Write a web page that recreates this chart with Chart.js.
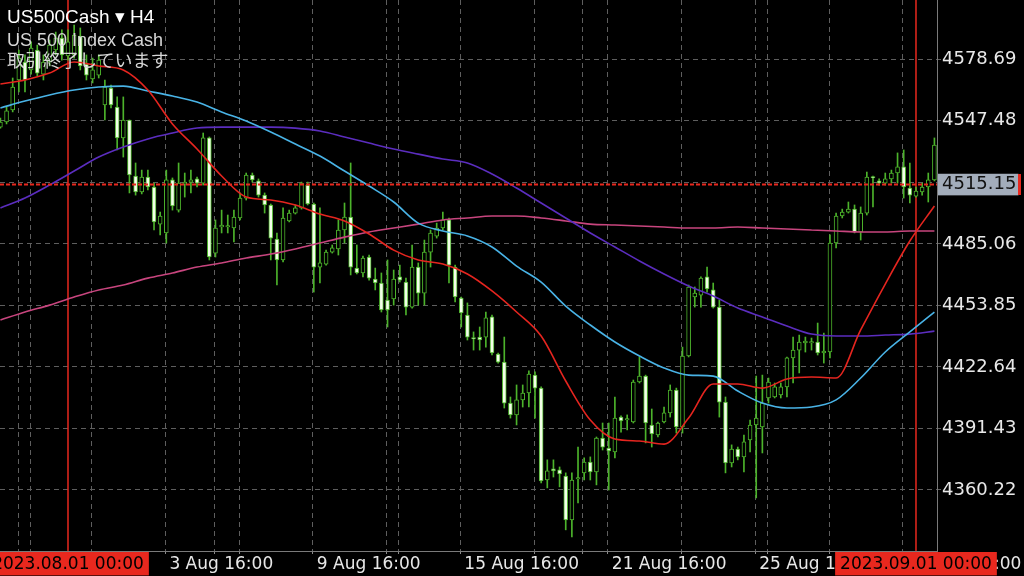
<!DOCTYPE html>
<html>
<head>
<meta charset="utf-8">
<script src="https://cdn.jsdelivr.net/npm/chart.js@4.4.1/dist/chart.umd.min.js"></script>
<style>
  html, body { margin: 0; padding: 0; background: #000; }
  #wrap { position: relative; width: 1024px; height: 576px; overflow: hidden; }
  .info { position: absolute; left: 7px; white-space: nowrap; }
</style>
</head>
<body>
<div id="wrap">
  <canvas id="chart" width="1024" height="576"></canvas>
  <div class="info" style="top:5px;font-family:'Liberation Sans';font-size:19px;line-height:23px;color:#fff">US500Cash ▾ H4</div>
  <div class="info" style="top:28px;font-family:'Liberation Sans';font-size:18px;line-height:24px;color:#d6d6d6">US 500 Index Cash</div>
  <div class="info" style="top:50px;font-family:'Noto Sans CJK JP';font-size:18px;line-height:18px;color:#d6d6d6">取引終了しています</div>
  <div style="position:absolute;left:1018px;top:174px;width:3px;height:21px;background:#e8281e"></div>
</div>
<script>
// H4 candles, first visible bar = index 0 (2023.08.01 00:00 is index 11)
const candleOpen = [
  4544.3, 4546.9, 4553.0, 4568.2, 4577.3, 4573.3, 4583.4, 4571.2, 4577.3, 4583.4,
  4589.5, 4580.4, 4580.9, 4590.5, 4576.3, 4568.7, 4570.7, 4555.5, 4564.1, 4554.5,
  4538.8, 4547.9, 4519.5, 4511.4, 4519.0, 4513.9, 4495.1, 4490.6, 4517.5, 4502.2,
  4515.4, 4516.4, 4518.0, 4515.9, 4538.8, 4480.4, 4493.6, 4493.6, 4493.1, 4498.2,
  4508.3, 4520.0, 4517.0, 4509.8, 4504.8, 4487.5, 4476.9, 4496.7, 4500.7, 4503.3,
  4514.9, 4505.3, 4473.3, 4474.8, 4480.9, 4482.5, 4492.1, 4498.7, 4472.8, 4470.3,
  4478.4, 4467.2, 4465.2, 4456.6, 4457.1, 4468.3, 4465.7, 4453.0, 4473.3, 4460.1,
  4480.9, 4489.0, 4493.1, 4497.2, 4473.3, 4457.6, 4449.0, 4437.3, 4437.8, 4437.8,
  4448.0, 4429.2, 4425.1, 4404.3, 4398.3, 4405.9, 4409.4, 4418.5, 4411.9, 4365.3,
  4370.9, 4370.4, 4367.3, 4345.0, 4365.8, 4368.9, 4374.4, 4369.4, 4386.6, 4381.5,
  4379.5, 4397.2, 4395.7, 4394.7, 4415.0, 4418.0, 4393.2, 4388.1, 4394.7, 4399.3,
  4410.9, 4392.2, 4428.2, 4458.1, 4459.1, 4468.3, 4461.7, 4453.0, 4404.8, 4373.9,
  4381.0, 4377.0, 4385.6, 4393.2, 4392.2, 4406.9, 4407.4, 4408.4, 4412.5, 4427.2,
  4431.2, 4434.8, 4434.8, 4435.3, 4429.7, 4430.2, 4485.5, 4499.2, 4501.2, 4502.7,
  4491.1, 4500.7, 4519.0, 4517.0, 4515.9, 4518.0, 4521.0, 4524.1, 4513.4, 4509.3,
  4511.4, 4513.9, 4517.5
];
const candleHigh = [
  4548.9, 4554.5, 4569.2, 4583.4, 4580.9, 4587.5, 4585.9, 4580.9, 4588.5, 4592.5,
  4593.6, 4593.6, 4596.1, 4594.6, 4580.9, 4579.3, 4580.9, 4568.2, 4565.6, 4559.6,
  4559.6, 4547.9, 4526.1, 4522.5, 4522.5, 4515.9, 4501.2, 4522.5, 4518.5, 4526.1,
  4521.0, 4522.5, 4519.0, 4541.3, 4539.3, 4497.2, 4502.2, 4499.7, 4502.2, 4510.9,
  4521.0, 4521.0, 4518.0, 4510.9, 4505.3, 4490.6, 4503.3, 4502.2, 4504.8, 4516.4,
  4516.4, 4505.8, 4503.3, 4481.9, 4484.5, 4497.2, 4505.8, 4526.1, 4484.5, 4478.9,
  4479.4, 4472.8, 4470.3, 4476.9, 4471.8, 4474.3, 4467.7, 4484.5, 4475.4, 4487.0,
  4492.1, 4495.6, 4501.2, 4498.2, 4474.3, 4458.1, 4455.1, 4440.4, 4442.9, 4450.5,
  4449.0, 4429.7, 4437.8, 4407.4, 4413.5, 4413.5, 4420.6, 4420.1, 4412.5, 4375.5,
  4375.5, 4371.9, 4368.9, 4368.9, 4382.0, 4376.5, 4377.0, 4387.1, 4394.2, 4394.2,
  4407.4, 4397.8, 4398.3, 4416.0, 4427.7, 4418.5, 4401.3, 4394.7, 4402.3, 4413.5,
  4411.9, 4432.7, 4464.2, 4463.2, 4468.3, 4473.3, 4465.2, 4456.6, 4407.4, 4383.1,
  4382.0, 4388.1, 4395.7, 4418.0, 4418.5, 4417.0, 4414.5, 4414.5, 4427.7, 4437.8,
  4438.8, 4437.8, 4437.3, 4444.9, 4439.8, 4489.6, 4500.7, 4502.7, 4506.3, 4504.8,
  4503.8, 4521.5, 4519.5, 4518.0, 4521.0, 4522.5, 4531.2, 4532.7, 4526.1, 4513.9,
  4515.9, 4521.0, 4538.8
];
const candleLow = [
  4543.8, 4545.9, 4552.0, 4562.1, 4562.1, 4571.2, 4570.2, 4568.2, 4575.3, 4580.9,
  4578.3, 4578.3, 4579.3, 4573.3, 4568.2, 4566.7, 4569.2, 4547.9, 4554.0, 4532.7,
  4529.1, 4510.9, 4509.8, 4510.4, 4512.4, 4492.1, 4489.6, 4485.5, 4502.2, 4501.2,
  4508.8, 4510.9, 4513.9, 4514.9, 4476.9, 4478.4, 4490.6, 4490.6, 4486.0, 4497.2,
  4507.3, 4516.4, 4508.8, 4500.7, 4476.9, 4464.2, 4475.9, 4496.2, 4500.2, 4502.7,
  4504.8, 4460.6, 4465.2, 4474.3, 4480.4, 4479.4, 4485.5, 4469.3, 4469.8, 4468.3,
  4466.7, 4461.7, 4450.5, 4442.9, 4454.0, 4465.7, 4449.0, 4452.5, 4454.0, 4454.0,
  4473.3, 4488.0, 4492.1, 4465.2, 4455.6, 4442.9, 4436.3, 4431.2, 4431.2, 4432.7,
  4428.7, 4424.6, 4401.8, 4396.7, 4393.2, 4402.3, 4402.3, 4396.7, 4363.8, 4361.3,
  4366.8, 4361.8, 4340.0, 4336.4, 4353.7, 4365.3, 4365.3, 4362.8, 4380.5, 4360.2,
  4376.5, 4389.6, 4390.7, 4394.2, 4414.5, 4384.1, 4382.0, 4387.1, 4394.2, 4397.2,
  4389.1, 4389.1, 4427.7, 4453.0, 4453.0, 4460.6, 4452.5, 4397.2, 4368.9, 4371.9,
  4375.5, 4369.4, 4379.5, 4356.2, 4379.0, 4404.3, 4406.9, 4406.9, 4407.4, 4414.5,
  4419.6, 4430.2, 4431.2, 4428.7, 4424.6, 4427.2, 4483.0, 4498.2, 4500.7, 4490.6,
  4487.0, 4499.7, 4503.8, 4514.9, 4514.9, 4515.9, 4515.9, 4508.3, 4505.8, 4508.8,
  4509.8, 4506.3, 4517.0
];
const candleClose = [
  4546.9, 4552.5, 4564.6, 4579.3, 4568.2, 4584.4, 4571.7, 4577.3, 4585.9, 4589.5,
  4580.9, 4587.5, 4591.0, 4575.3, 4570.7, 4573.3, 4578.3, 4564.6, 4555.5, 4538.8,
  4547.9, 4520.0, 4511.4, 4519.0, 4513.9, 4496.2, 4499.2, 4517.5, 4504.3, 4515.9,
  4516.4, 4517.5, 4515.9, 4538.8, 4478.4, 4493.1, 4494.6, 4494.1, 4498.7, 4508.3,
  4520.0, 4517.5, 4509.8, 4504.8, 4488.0, 4476.9, 4498.2, 4500.7, 4503.3, 4515.9,
  4505.3, 4473.3, 4475.4, 4480.9, 4483.0, 4492.1, 4498.7, 4473.3, 4470.3, 4477.9,
  4467.7, 4465.2, 4451.5, 4451.5, 4467.2, 4466.7, 4453.0, 4473.3, 4460.1, 4480.9,
  4490.6, 4493.1, 4497.2, 4474.3, 4458.1, 4450.0, 4437.8, 4436.8, 4436.3, 4447.5,
  4429.7, 4425.1, 4404.3, 4398.3, 4405.9, 4409.4, 4419.0, 4411.9, 4364.8, 4369.9,
  4369.9, 4368.4, 4345.0, 4365.3, 4366.3, 4374.4, 4369.4, 4386.6, 4382.0, 4380.0,
  4396.7, 4395.2, 4396.2, 4415.0, 4418.0, 4394.2, 4388.6, 4394.2, 4399.3, 4410.9,
  4392.2, 4428.2, 4463.2, 4460.1, 4467.7, 4462.2, 4453.0, 4404.8, 4373.9, 4381.0,
  4377.0, 4384.6, 4393.2, 4396.7, 4404.3, 4415.0, 4412.5, 4412.5, 4427.2, 4431.2,
  4435.3, 4435.8, 4435.3, 4429.7, 4430.7, 4485.5, 4499.2, 4501.2, 4502.7, 4491.1,
  4500.7, 4519.0, 4518.5, 4515.9, 4518.0, 4521.0, 4524.1, 4513.9, 4509.8, 4511.9,
  4513.9, 4517.5, 4535.2
];

// moving averages, read every 4th bar
const maBars = [0, 4, 8, 12, 16, 20, 24, 28, 32, 36, 40, 44, 48, 52, 56, 60, 64, 68, 72, 76,
  80, 84, 88, 92, 96, 100, 104, 108, 112, 116, 120, 124, 128, 132, 136, 140, 144, 148, 152];
const maFast = [4566.2, 4568.2, 4571.7, 4577.3, 4575.3, 4573.3, 4563.1, 4545.9, 4533.2, 4519.5,
  4508.8, 4507.3, 4504.8, 4500.2, 4496.7, 4490.1, 4481.9, 4476.9, 4474.8, 4469.8,
  4461.2, 4450.5, 4438.3, 4415.5, 4395.7, 4386.1, 4385.1, 4383.5, 4396.7, 4414.0,
  4414.0, 4411.9, 4416.5, 4417.5, 4417.0, 4441.4, 4464.7, 4486.5, 4504.3];
const maMid = [4554.0, 4557.5, 4560.6, 4563.1, 4564.6, 4565.1, 4562.6, 4560.1, 4557.0, 4552.0,
  4547.4, 4541.8, 4535.7, 4529.6, 4522.0, 4514.4, 4506.3, 4495.6, 4491.6, 4489.1,
  4483.5, 4473.8, 4465.7, 4453.5, 4443.9, 4435.3, 4428.2, 4422.1, 4418.5, 4418.0,
  4410.4, 4404.3, 4401.8, 4402.3, 4405.9, 4417.0, 4430.2, 4440.4, 4450.5];
const maSlow = [4503.3, 4508.3, 4514.9, 4522.0, 4529.1, 4534.2, 4538.3, 4541.3, 4543.8, 4544.3,
  4544.3, 4544.3, 4543.8, 4542.3, 4539.3, 4536.2, 4533.2, 4530.6, 4528.1, 4526.1,
  4520.5, 4513.4, 4505.8, 4498.2, 4490.6, 4483.5, 4476.4, 4469.8, 4463.7, 4458.6,
  4452.5, 4448.0, 4443.4, 4439.3, 4438.3, 4438.3, 4438.8, 4439.3, 4440.8];
const maLong = [4446.4, 4450.5, 4454.0, 4458.1, 4461.7, 4464.2, 4467.7, 4470.3, 4473.3, 4475.4,
  4477.9, 4479.9, 4482.5, 4485.5, 4488.5, 4491.1, 4493.1, 4495.1, 4497.2, 4498.2,
  4499.2, 4499.2, 4498.2, 4496.7, 4495.1, 4494.6, 4494.1, 4493.6, 4493.1, 4493.1,
  4493.6, 4493.1, 4492.6, 4492.1, 4491.6, 4491.1, 4491.1, 4491.6, 4491.6];

const bidPrice = 4515.15;
const separatorBars = [11, 149];
const separatorLabels = ['2023.08.01 00:00', '2023.09.01 00:00'];

const xTickBars = [2.9, 4.9, 14.85, 26.85, 34.8, 38.85, 50.85, 62.85, 64.8, 74.85, 86.85,
  94.8, 98.85, 110.85, 122.85, 124.8, 134.85, 146.85];
const xTickLabels = ['28 Jul 16:00', '', '', '3 Aug 16:00', '', '', '9 Aug 16:00', '', '',
  '15 Aug 16:00', '', '', '21 Aug 16:00', '', '25 Aug 16:00', '', '', '31 Aug 16:00'];
const yTickValues = [4360.22, 4391.43, 4422.64, 4453.85, 4485.06, 4516.27, 4547.48, 4578.69];

const xMin = -0.066, xMax = 152.42;
const yMin = 4329.27, yMax = 4608.77;

const GREEN = '#4cb32b';
const RED = '#e8281e';
const GRID = '#5e5e5e';
const FONT = '"DejaVu Sans", sans-serif';
const PLOT_W = 937;
const LABEL_OFFSET = 4;

// x ticks: grid lines, then the two separator boxes (drawn last, on top)
const mctx = document.createElement('canvas').getContext('2d');
mctx.font = '17px ' + FONT;
const barPx = PLOT_W / (xMax - xMin);
const xTicks = xTickBars.map((v, i) => ({ value: v, label: xTickLabels[i], box: false }));
separatorBars.forEach((b, i) => {
  const w = mctx.measureText(separatorLabels[i]).width;
  xTicks.push({ value: b - (w / 2 + LABEL_OFFSET) / barPx, label: separatorLabels[i], box: true });
});

const yTicks = yTickValues.map(v => ({
  value: v, label: Math.abs(v - bidPrice) < 5 ? '' : v.toFixed(2), box: false
}));
yTicks.push({ value: bidPrice, label: bidPrice.toFixed(2), box: true });

const bars = candleOpen.map((_, i) => i);
const wickData = bars.map(i => ({ x: i, y: [candleLow[i], candleHigh[i]] }));
const bodyData = bars.map(i => ({ x: i, y: [candleOpen[i], candleClose[i]] }));
const bodyFill = bars.map(i => candleClose[i] < candleOpen[i] ? '#f2ffe8' : '#000');

function maLine(values, color) {
  return {
    type: 'line',
    data: maBars.map((b, i) => ({ x: b, y: values[i] })),
    borderColor: color,
    borderWidth: 1.6,
    pointRadius: 0,
    cubicInterpolationMode: 'monotone',
    order: 1
  };
}

const separatorSets = separatorBars.map(b => ({
  type: 'line',
  data: [{ x: b, y: yMin }, { x: b, y: yMax }],
  borderColor: RED,
  borderWidth: 1.5,
  pointRadius: 0,
  order: 8
}));

// scales must not push the plot area in for their edge labels
function noEdgePadding(s) {
  s.paddingTop = 0; s.paddingBottom = 0; s.paddingLeft = 0; s.paddingRight = 0;
}

new Chart(document.getElementById('chart'), {
  type: 'bar',
  data: {
    datasets: [
      {
        type: 'line',
        data: [{ x: xMin, y: bidPrice }, { x: xMax, y: bidPrice }],
        borderColor: RED,
        borderWidth: 2,
        borderDash: [4, 2],
        pointRadius: 0,
        order: 0
      },
      maLine(maFast, '#e5251f'),
      maLine(maMid, '#49b3e6'),
      maLine(maSlow, '#5b2dbf'),
      maLine(maLong, '#c8457e'),
      {
        data: bodyData,
        backgroundColor: bodyFill,
        borderColor: GREEN,
        borderWidth: 1,
        borderSkipped: false,
        barThickness: 4,
        minBarLength: 1.5,
        grouped: false,
        order: 5
      },
      {
        data: wickData,
        backgroundColor: GREEN,
        borderWidth: 0,
        barThickness: 1,
        grouped: false,
        order: 6
      },
      ...separatorSets
    ]
  },
  options: {
    responsive: false,
    animation: false,
    events: [],
    layout: { padding: 0, autoPadding: false },
    plugins: { legend: { display: false }, tooltip: { enabled: false } },
    scales: {
      x: {
        type: 'linear',
        min: xMin,
        max: xMax,
        bounds: 'data',
        offset: false,
        afterBuildTicks: s => { s.ticks = xTicks.map(t => ({ value: t.value })); },
        afterFit: s => { s.height = 25; noEdgePadding(s); },
        grid: {
          offset: false,
          color: c => xTicks[c.index] && xTicks[c.index].box ? 'rgba(0,0,0,0)' : GRID,
          tickColor: c => xTicks[c.index] && xTicks[c.index].box ? 'rgba(0,0,0,0)' : '#8a8a8a',
          tickLength: 3
        },
        border: { color: '#7a7a7a', width: 1, dash: [5, 4] },
        ticks: {
          autoSkip: false,
          maxRotation: 0,
          align: 'start',
          labelOffset: LABEL_OFFSET,
          padding: 0,
          font: { family: FONT, size: 17 },
          color: c => xTicks[c.index] && xTicks[c.index].box ? '#000' : '#e8e8e8',
          callback: (v, i) => xTicks[i].label,
          showLabelBackdrop: c => !!(xTicks[c.index] && xTicks[c.index].box),
          backdropColor: RED,
          backdropPadding: { left: 5, right: 5, top: 2, bottom: 1 }
        }
      },
      y: {
        type: 'linear',
        position: 'right',
        min: yMin,
        max: yMax,
        bounds: 'data',
        afterBuildTicks: s => { s.ticks = yTicks.map(t => ({ value: t.value })); },
        afterFit: s => { s.width = 1024 - PLOT_W; noEdgePadding(s); },
        grid: {
          color: c => yTicks[c.index] && yTicks[c.index].box ? 'rgba(0,0,0,0)' : GRID,
          tickColor: c => yTicks[c.index] && yTicks[c.index].box ? 'rgba(0,0,0,0)' : GRID,
          tickLength: 4
        },
        border: { color: '#7a7a7a', width: 1, dash: [5, 4] },
        ticks: {
          padding: 1,
          font: { family: FONT, size: 18 },
          color: c => yTicks[c.index] && yTicks[c.index].box ? '#111' : '#e8e8e8',
          callback: (v, i) => yTicks[i].label,
          showLabelBackdrop: c => !!(yTicks[c.index] && yTicks[c.index].box),
          backdropColor: '#a3adbb',
          backdropPadding: { left: 4, right: 2, top: 0, bottom: 0 }
        }
      }
    }
  }
});
</script>
</body>
</html>
